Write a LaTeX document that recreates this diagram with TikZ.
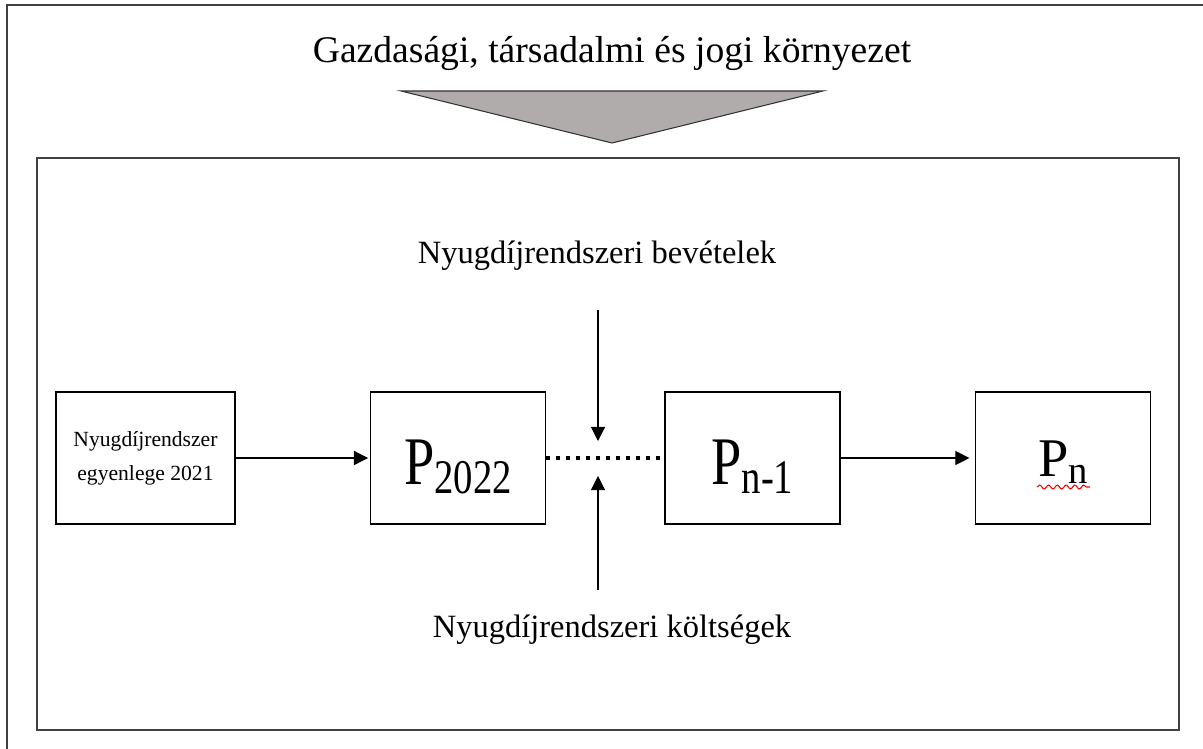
\documentclass[tikz,border=0pt]{standalone}
\usepackage{fontspec}
\setmainfont{Liberation Serif}
\usepackage{graphicx}
\usetikzlibrary{arrows.meta,positioning,decorations.pathmorphing}

\definecolor{nyilszurke}{RGB}{176,172,171}
\newcommand{\pname}[2][1.25]{\scalebox{1}[#1]{\fontsize{31}{31}\selectfont P\raisebox{-0.12em}{\fontsize{22}{22}\selectfont #2}}}

\begin{document}
\begin{tikzpicture}[x=0.02cm,y=-0.02cm,node distance=6.2cm,on grid,
		>={Triangle[length=8pt,width=8pt]},
		frame/.style={draw=black!75,line width=0.8pt},
		box/.style={draw,line width=0.75pt,minimum width=3.5cm,minimum height=2.64cm,inner sep=0pt},
		pbox/.style={box,text height=30.6pt,text depth=0pt},
		arr/.style={->,line width=0.6pt},
		felirat/.style={anchor=base,font=\fontsize{18.5}{22}\selectfont}]
		\useasboundingbox (0,0) rectangle (1203,748);
		\clip (0,0) rectangle (1203,748);
		\draw[frame] (7,5) rectangle (1230,770);
		\draw[frame] (37,158) rectangle (1179,730);
		
		\node[anchor=base,font=\fontsize{21.4}{26}\selectfont] (kornyezet) at (612,62) {Gazdasági, társadalmi és jogi környezet};
		\filldraw[fill=nyilszurke,draw=black!80,line width=0.6pt] (401,91) -- (823,91) -- (612,143) -- cycle;
		
		\node[box,minimum width=3.58cm,align=center,font=\fontsize{12.3}{19.3}\selectfont] (egyenleg) at (145.5,458) {Nyugdíjrendszer\\egyenlege 2021};
		\node[pbox, right=6.25cm of egyenleg] (p2022) {\pname{2022}};
		\node[pbox, right=5.89cm of p2022] (pn1) {\pname{n-1}};
		\node[box, text height=21.6pt, text depth=0pt, right=6.21cm of pn1] (pn) {\pname[1]{n}};
		\draw[red,line width=0.6pt,decorate,decoration={snake,amplitude=1.1pt,segment length=5pt}] (1037,487) -- (1090,487);
		
		\node[felirat] (bevetel) at (597,263) {Nyugdíjrendszeri bevételek};
		\node[felirat] (koltseg) at (612,637) {Nyugdíjrendszeri költségek};
		\coordinate (be) at (598,310);
		\coordinate (bevege) at (598,441);
		\coordinate (ki) at (598,590);
		\coordinate (kivege) at (598,476);
		
		\draw[arr, shorten >=1pt] (egyenleg) -- (p2022);
		\draw[line width=2.3pt,dash pattern=on 2.3pt off 3.4pt] (p2022) -- (pn1);
		\draw[arr, shorten >=3pt] (pn1) -- (pn);
		\draw[arr] (be) -- (bevege);
		\draw[arr] (ki) -- (kivege);
\end{tikzpicture}
\end{document}
